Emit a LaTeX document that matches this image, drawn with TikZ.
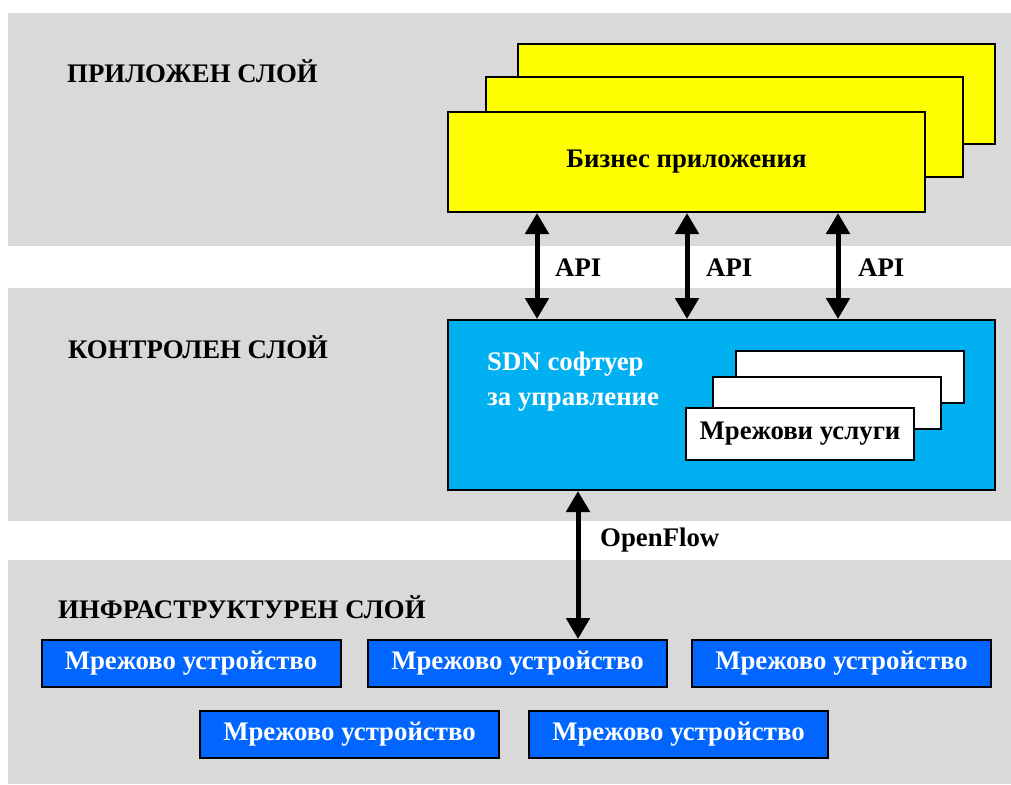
\documentclass[tikz,border=0pt]{standalone}
\usepackage{fontspec}
\setmainfont{Liberation Serif}
\usetikzlibrary{arrows.meta}
\definecolor{bandgray}{RGB}{217,217,217}
\definecolor{ctlblue}{RGB}{0,176,240}
\definecolor{devblue}{RGB}{0,102,255}
\definecolor{appyellow}{RGB}{255,255,0}
\newcommand{\bigbf}{\bfseries\fontsize{26.8}{30}\selectfont}
\tikzset{
  box/.style={draw=black, line width=2pt, rectangle, inner sep=0pt},
  txt/.style={font=\bigbf, inner sep=0pt},
  dbl/.style={line width=5pt, {Triangle[width=23pt,length=21pt]}-{Triangle[width=23pt,length=21pt]}},
  devbox/.style={box, fill=devblue, minimum width=299pt, minimum height=47pt, text=white, font=\bigbf},
  svcbox/.style={box, fill=white, minimum width=228pt, minimum height=52pt},
  appbox/.style={box, fill=appyellow, minimum width=477pt, minimum height=100pt},
}
\begin{document}
\begin{tikzpicture}[x=1pt,y=-1pt]
\useasboundingbox (0,0) rectangle (1011,784);
% bands
\fill[bandgray] (8,13) rectangle (1011,246);
\fill[bandgray] (8,288) rectangle (1011,521);
\fill[bandgray] (8,560) rectangle (1011,784);
% titles
\node[txt, anchor=west] (t1) at (67,71) {ПРИЛОЖЕН СЛОЙ};
\node[txt, anchor=west] (t2) at (68,347) {КОНТРОЛЕН СЛОЙ};
\node[txt, anchor=west] (t3) at (58,607) {ИНФРАСТРУКТУРЕН СЛОЙ};
% application boxes
\node[appbox] (yb) at (756.5,94) {};
\node[appbox] (ym) at (724.5,127) {};
\node[appbox, font=\bigbf] (yf) at (686.5,162) {Бизнес приложения};
% control box
\node[box, fill=ctlblue, minimum width=547pt, minimum height=170pt] (ctl) at (721.5,405) {};
\node[txt, anchor=west, text=white, align=left, font=\bfseries\fontsize{26.8}{35}\selectfont] (sdn) at (487,382) {SDN софтуер\\за управление};
\node[svcbox] (wb) at (850,377) {};
\node[svcbox] (wm) at (827,403) {};
\node[svcbox, font=\bigbf] (wf) at (800,433.5) {Мрежови услуги};
% devices
\node[devbox] (d1) at (191,663.5) {Мрежово устройство};
\node[devbox] (d2) at (517.5,663.5) {Мрежово устройство};
\node[devbox] (d3) at (841.5,663.5) {Мрежово устройство};
\node[devbox] (d4) at (349.5,734.5) {Мрежово устройство};
\node[devbox] (d5) at (678.5,734.5) {Мрежово устройство};
% arrows
\coordinate (a1) at (537,0);
\coordinate (a2) at (687,0);
\coordinate (a3) at (838,0);
\coordinate (a4) at (578,0);
\draw[dbl] (a1 |- yf.south) -- (a1 |- ctl.north);
\draw[dbl] (a2 |- yf.south) -- (a2 |- ctl.north);
\draw[dbl] (a3 |- yf.south) -- (a3 |- ctl.north);
\draw[dbl] (a4 |- ctl.south) -- (a4 |- d2.north);
\node[txt, anchor=west] (l1) at (555,268) {API};
\node[txt, anchor=west] (l2) at (706,268) {API};
\node[txt, anchor=west] (l3) at (858,268) {API};
\node[txt, anchor=west] (l4) at (600,540) {OpenFlow};
\end{tikzpicture}
\end{document}
